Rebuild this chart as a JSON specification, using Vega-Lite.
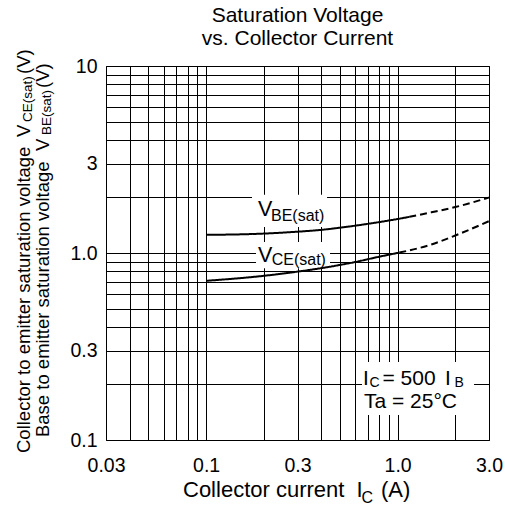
{
  "$schema": "https://vega.github.io/schema/vega-lite/v6.json",
  "width": 383,
  "height": 374,
  "autosize": {"type": "none"},
  "padding": {"left": 106, "top": 66, "right": 16, "bottom": 76},
  "background": "white",
  "config": {
    "view": {"stroke": "#000", "strokeWidth": 1},
    "font": "Liberation Sans",
    "text": {"font": "Liberation Sans", "color": "#000"}
  },
  "title": {
    "text": ["Saturation Voltage", "vs. Collector Current"],
    "font": "Liberation Sans",
    "fontSize": 21,
    "fontWeight": "normal",
    "color": "#000",
    "anchor": "middle",
    "frame": "group",
    "lineHeight": 23.4,
    "offset": 0
  },
  "datasets": {
    "curves": [
      {"series": "VBE", "seg": "solid", "x": 0.1, "y": 1.25},
      {"series": "VBE", "seg": "solid", "x": 0.2, "y": 1.27},
      {"series": "VBE", "seg": "solid", "x": 0.3, "y": 1.30},
      {"series": "VBE", "seg": "solid", "x": 0.4, "y": 1.33},
      {"series": "VBE", "seg": "solid", "x": 0.6, "y": 1.40},
      {"series": "VBE", "seg": "solid", "x": 1.0, "y": 1.52},
      {"series": "VBE", "seg": "solid", "x": 1.15, "y": 1.56},
      {"series": "VBE", "seg": "dashed", "x": 1.15, "y": 1.56},
      {"series": "VBE", "seg": "dashed", "x": 1.5, "y": 1.65},
      {"series": "VBE", "seg": "dashed", "x": 2.0, "y": 1.76},
      {"series": "VBE", "seg": "dashed", "x": 3.0, "y": 1.98},
      {"series": "VCE", "seg": "solid", "x": 0.1, "y": 0.71},
      {"series": "VCE", "seg": "solid", "x": 0.2, "y": 0.755},
      {"series": "VCE", "seg": "solid", "x": 0.3, "y": 0.795},
      {"series": "VCE", "seg": "solid", "x": 0.4, "y": 0.83},
      {"series": "VCE", "seg": "solid", "x": 0.6, "y": 0.895},
      {"series": "VCE", "seg": "solid", "x": 0.8, "y": 0.955},
      {"series": "VCE", "seg": "solid", "x": 1.02, "y": 1.005},
      {"series": "VCE", "seg": "dashed", "x": 1.02, "y": 1.005},
      {"series": "VCE", "seg": "dashed", "x": 1.5, "y": 1.11},
      {"series": "VCE", "seg": "dashed", "x": 2.0, "y": 1.24},
      {"series": "VCE", "seg": "dashed", "x": 3.0, "y": 1.48}
    ],
    "boxes": [
      {"x": 0.1736, "x2": 0.4279, "y": 1.377, "y2": 2.05},
      {"x": 0.1822, "x2": 0.4435, "y": 0.83, "y2": 1.145},
      {"x": 0.6517, "x2": 2.506, "y": 0.136, "y2": 0.2613}
    ],
    "plotMain": [
      {"text": "V", "x": 0.1866, "y": 1.577},
      {"text": "V", "x": 0.1866, "y": 0.8985}
    ],
    "plotSub": [
      {"text": "BE(sat)", "x": 0.2182, "y": 1.492},
      {"text": "CE(sat)", "x": 0.22, "y": 0.8627}
    ],
    "noteMain": [
      {"text": "I", "x": 0.6594, "y": 0.1968},
      {"text": "= 500", "x": 0.8336, "y": 0.1968},
      {"text": "I", "x": 1.7676, "y": 0.1968},
      {"text": "Ta = 25°C", "x": 0.6674, "y": 0.1474}
    ],
    "noteSub": [
      {"text": "C", "x": 0.7131, "y": 0.1932},
      {"text": "B", "x": 1.9815, "y": 0.1932}
    ],
    "xTitleMain": [
      {"text": "Collector current", "x": 0.07572, "y": 0.04974},
      {"text": "I", "x": 0.6106, "y": 0.04974},
      {"text": "(A)", "x": 0.8188, "y": 0.04974}
    ],
    "xTitleSub": [
      {"text": "C", "x": 0.6478, "y": 0.04586}
    ],
    "yTitleMain": [
      {"text": "Collector to emitter saturation voltage", "x": 0.01203, "y": 0.08519},
      {"text": "V", "x": 0.01203, "y": 4.172},
      {"text": "(V)", "x": 0.01203, "y": 9.063},
      {"text": "Base to emitter saturation voltage", "x": 0.01512, "y": 0.10375},
      {"text": "V", "x": 0.01512, "y": 3.512},
      {"text": "(V)", "x": 0.01512, "y": 7.627}
    ],
    "yTitleSub": [
      {"text": "CE(sat)", "x": 0.012325, "y": 5.017},
      {"text": "BE(sat)", "x": 0.015487, "y": 4.276}
    ]
  },
  "layer": [
    {
      "data": {"name": "boxes"},
      "mark": {"type": "rect", "fill": "white", "stroke": null},
      "encoding": {
        "x": {
          "field": "x", "type": "quantitative",
          "scale": {"type": "log", "domain": [0.03, 3], "nice": false},
          "axis": {
            "values": [0.03, 0.04, 0.05, 0.06, 0.07, 0.08, 0.09, 0.1, 0.2, 0.3, 0.4, 0.5, 0.6, 0.7, 0.8, 0.9, 1, 2, 3],
            "grid": true, "gridColor": "#000", "gridWidth": 1, "gridOpacity": 1,
            "ticks": false, "domain": false,
            "labelFont": "Liberation Sans", "labelFontSize": 19.5, "labelColor": "#000",
            "labelPadding": 16, "labelFlush": false, "labelOverlap": false, "labelBound": false,
            "labelExpr": "datum.value == 0.03 ? '0.03' : datum.value == 0.1 ? '0.1' : datum.value == 0.3 ? '0.3' : datum.value == 1 ? '1.0' : datum.value == 3 ? '3.0' : ''",
            "title": null
          }
        },
        "x2": {"field": "x2"},
        "y": {
          "field": "y", "type": "quantitative",
          "scale": {"type": "log", "domain": [0.1, 10], "nice": false},
          "axis": {
            "values": [0.1, 0.2, 0.3, 0.4, 0.5, 0.6, 0.7, 0.8, 0.9, 1, 2, 3, 4, 5, 6, 7, 8, 9, 10],
            "grid": true, "gridColor": "#000", "gridWidth": 1, "gridOpacity": 1,
            "ticks": false, "domain": false,
            "labelFont": "Liberation Sans", "labelFontSize": 19.5, "labelColor": "#000",
            "labelPadding": 9, "labelFlush": false, "labelOverlap": false, "labelBound": false,
            "labelExpr": "datum.value == 0.1 ? '0.1' : datum.value == 0.3 ? '0.3' : datum.value == 1 ? '1.0' : datum.value == 3 ? '3' : datum.value == 10 ? '10' : ''",
            "title": null
          }
        },
        "y2": {"field": "y2"}
      }
    },
    {
      "data": {"name": "curves"},
      "mark": {"type": "line", "color": "#000", "strokeWidth": 2, "interpolate": "monotone"},
      "encoding": {
        "x": {"field": "x", "type": "quantitative", "scale": {"type": "log", "domain": [0.03, 3], "nice": false}},
        "y": {"field": "y", "type": "quantitative", "scale": {"type": "log", "domain": [0.1, 10], "nice": false}},
        "detail": {"field": "series"},
        "strokeDash": {
          "field": "seg", "type": "nominal",
          "scale": {"domain": ["solid", "dashed"], "range": [[1, 0], [7, 4]]},
          "legend": null
        }
      }
    },
    {
      "data": {"name": "plotMain"},
      "mark": {"type": "text", "fontSize": 21.5, "align": "left", "baseline": "alphabetic", "font": "Liberation Sans", "color": "#000"},
      "encoding": {
        "x": {"field": "x", "type": "quantitative", "scale": {"type": "log", "domain": [0.03, 3], "nice": false}},
        "y": {"field": "y", "type": "quantitative", "scale": {"type": "log", "domain": [0.1, 10], "nice": false}},
        "text": {"field": "text"}
      }
    },
    {
      "data": {"name": "plotSub"},
      "mark": {"type": "text", "fontSize": 16, "align": "left", "baseline": "alphabetic", "font": "Liberation Sans", "color": "#000"},
      "encoding": {
        "x": {"field": "x", "type": "quantitative", "scale": {"type": "log", "domain": [0.03, 3], "nice": false}},
        "y": {"field": "y", "type": "quantitative", "scale": {"type": "log", "domain": [0.1, 10], "nice": false}},
        "text": {"field": "text"}
      }
    },
    {
      "data": {"name": "noteMain"},
      "mark": {"type": "text", "fontSize": 21, "align": "left", "baseline": "alphabetic", "font": "Liberation Sans", "color": "#000"},
      "encoding": {
        "x": {"field": "x", "type": "quantitative", "scale": {"type": "log", "domain": [0.03, 3], "nice": false}},
        "y": {"field": "y", "type": "quantitative", "scale": {"type": "log", "domain": [0.1, 10], "nice": false}},
        "text": {"field": "text"}
      }
    },
    {
      "data": {"name": "noteSub"},
      "mark": {"type": "text", "fontSize": 14, "align": "left", "baseline": "alphabetic", "font": "Liberation Sans", "color": "#000"},
      "encoding": {
        "x": {"field": "x", "type": "quantitative", "scale": {"type": "log", "domain": [0.03, 3], "nice": false}},
        "y": {"field": "y", "type": "quantitative", "scale": {"type": "log", "domain": [0.1, 10], "nice": false}},
        "text": {"field": "text"}
      }
    },
    {
      "data": {"name": "xTitleMain"},
      "mark": {"type": "text", "fontSize": 22, "align": "left", "baseline": "alphabetic", "font": "Liberation Sans", "color": "#000"},
      "encoding": {
        "x": {"field": "x", "type": "quantitative", "scale": {"type": "log", "domain": [0.03, 3], "nice": false}},
        "y": {"field": "y", "type": "quantitative", "scale": {"type": "log", "domain": [0.1, 10], "nice": false}},
        "text": {"field": "text"}
      }
    },
    {
      "data": {"name": "xTitleSub"},
      "mark": {"type": "text", "fontSize": 16, "align": "left", "baseline": "alphabetic", "font": "Liberation Sans", "color": "#000"},
      "encoding": {
        "x": {"field": "x", "type": "quantitative", "scale": {"type": "log", "domain": [0.03, 3], "nice": false}},
        "y": {"field": "y", "type": "quantitative", "scale": {"type": "log", "domain": [0.1, 10], "nice": false}},
        "text": {"field": "text"}
      }
    },
    {
      "data": {"name": "yTitleMain"},
      "mark": {"type": "text", "fontSize": 18.5, "angle": -90, "align": "left", "baseline": "alphabetic", "font": "Liberation Sans", "color": "#000"},
      "encoding": {
        "x": {"field": "x", "type": "quantitative", "scale": {"type": "log", "domain": [0.03, 3], "nice": false}},
        "y": {"field": "y", "type": "quantitative", "scale": {"type": "log", "domain": [0.1, 10], "nice": false}},
        "text": {"field": "text"}
      }
    },
    {
      "data": {"name": "yTitleSub"},
      "mark": {"type": "text", "fontSize": 13.5, "angle": -90, "align": "left", "baseline": "alphabetic", "font": "Liberation Sans", "color": "#000"},
      "encoding": {
        "x": {"field": "x", "type": "quantitative", "scale": {"type": "log", "domain": [0.03, 3], "nice": false}},
        "y": {"field": "y", "type": "quantitative", "scale": {"type": "log", "domain": [0.1, 10], "nice": false}},
        "text": {"field": "text"}
      }
    }
  ]
}
